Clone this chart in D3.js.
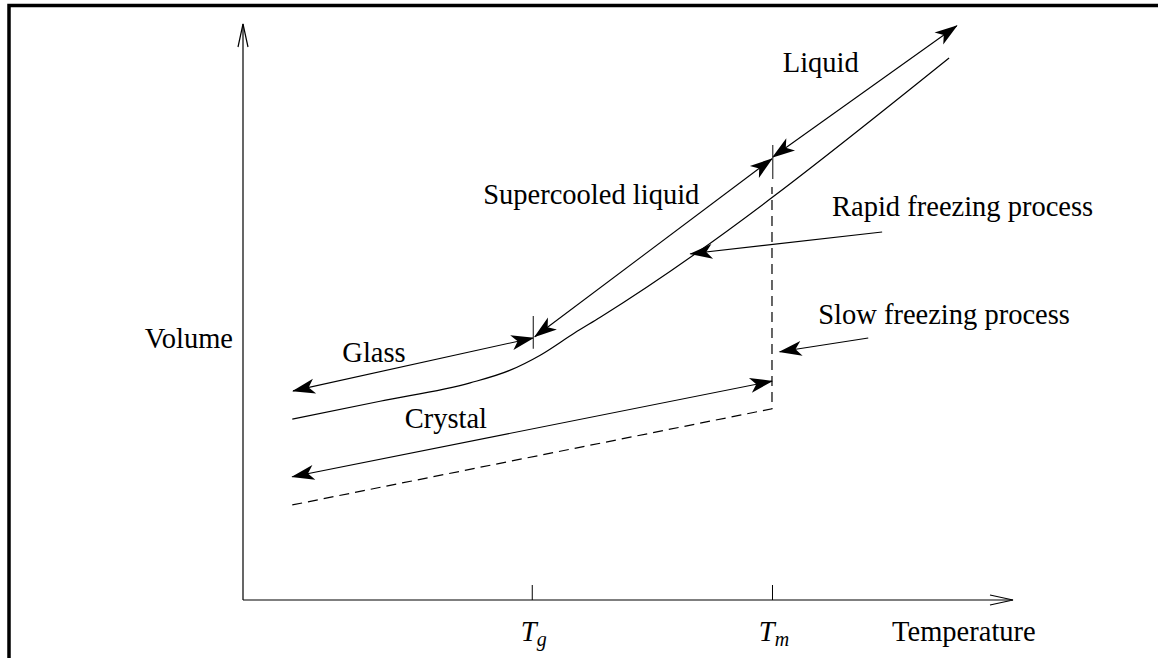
<!DOCTYPE html>
<html>
<head>
<meta charset="utf-8">
<script src="https://cdn.jsdelivr.net/npm/d3@7"></script>
<style>
  body { margin: 0; background: #fff; }
  text { font-family: "Liberation Serif", "Times New Roman", serif; fill: #000; }
</style>
</head>
<body>
<svg id="chart" width="1158" height="658"></svg>
<script>
// schematic units, temperature and volume both run 0..100
const Tg = 37.5, Tm = 68.7;
const tickTemps = [Tg, Tm];
const tickNames = [["T", "g"], ["T", "m"]];

// rapid freezing curve: glass -> bend at Tg -> supercooled / liquid
const rapidT = [6.4, 17.8, 29.5, 34.7, 38.6, 43.1, 46.4, 91.7];
const rapidV = [31.4, 34.5, 37.7, 39.9, 42.5, 46.4, 49.1, 94.1];

// slow freezing: crystal line (dashed) with the jump at Tm
const slowT = [6.4, Tm, Tm];
const slowV = [16.5, 33.2, 71.7];

// double arrows next to the curves: [t1, v1, t2, v2]
const spans = [
  [68.8, 76.9, 92.7, 99.7],  // liquid
  [37.9, 45.7, 68.7, 76.6],  // supercooled liquid
  [37.7, 45.5, 6.5, 36.3],   // glass
  [68.7, 38.0, 6.4, 21.4]    // crystal
];
// little bars where the double arrows meet: [t, vLow, vHigh]
const bars = [
  [68.8, 73.1, 79.0],
  [37.7, 43.6, 49.3]
];
// pointers for the two processes: [tFrom, vFrom, tTo, vTo]
const pointers = [
  [83.0, 63.9, 58.1, 60.1],  // rapid
  [81.2, 45.5, 69.7, 43.1]   // slow
];

const labels = [
  {text: "Liquid", t: 70.1, v: 91.7},
  {text: "Supercooled liquid", t: 31.2, v: 68.75},
  {text: "Rapid freezing process", t: 76.5, v: 66.7},
  {text: "Slow freezing process", t: 74.7, v: 47.9},
  {text: "Glass", t: 12.9, v: 41.3},
  {text: "Crystal", t: 21.0, v: 29.9},
  {text: "Temperature", t: 84.3, v: -7.1}
];

const svg = d3.select("#chart");
const x = d3.scaleLinear([0, 100], [243, 1013]);
const y = d3.scaleLinear([0, 100], [600, 24]);
const fontSize = "28.5px";

// frame (only top and left edges show)
svg.append("path")
  .attr("d", "M9,658 L9,5.5 L1158,5.5")
  .attr("fill", "none").attr("stroke", "#000").attr("stroke-width", 3.5);

const defs = svg.append("defs");
defs.append("marker").attr("id", "head")
  .attr("viewBox", "-25 -9 27 18").attr("refX", 0).attr("refY", 0)
  .attr("markerWidth", 27).attr("markerHeight", 18)
  .attr("markerUnits", "userSpaceOnUse")
  .attr("orient", "auto-start-reverse")
  .append("path").attr("d", "M1,0 L-22,-7.5 L-16,0 L-22,7.5 Z").attr("fill", "#000");
defs.append("marker").attr("id", "open")
  .attr("viewBox", "-25 -7 27 14").attr("refX", 0).attr("refY", 0)
  .attr("markerWidth", 27).attr("markerHeight", 14)
  .attr("markerUnits", "userSpaceOnUse")
  .attr("orient", "auto")
  .append("path").attr("d", "M-23,-5 L0,0 L-23,5")
  .attr("fill", "none").attr("stroke", "#000").attr("stroke-width", 1.2);

// axes
const xAxis = d3.axisBottom(x).tickValues(tickTemps).tickFormat("")
  .tickSizeInner(-15).tickSizeOuter(0);
const gx = svg.append("g").attr("transform", `translate(0,${y(0)})`).call(xAxis);
gx.select(".domain").remove();
gx.selectAll(".tick line").attr("stroke-width", 1);

svg.append("line")
  .attr("x1", x(0)).attr("y1", y(0)).attr("x2", x(100)).attr("y2", y(0))
  .attr("stroke", "#000").attr("stroke-width", 1.2).attr("marker-end", "url(#open)");
svg.append("line")
  .attr("x1", x(0)).attr("y1", y(0)).attr("x2", x(0)).attr("y2", y(100))
  .attr("stroke", "#000").attr("stroke-width", 1.2).attr("marker-end", "url(#open)");

// Tg / Tm labels
tickTemps.forEach((t, i) => {
  const lab = svg.append("text").attr("x", x(t) + 2).attr("y", 641)
    .attr("text-anchor", "middle").style("font-size", fontSize);
  lab.append("tspan").attr("font-style", "italic").text(tickNames[i][0]);
  lab.append("tspan").attr("dy", 5).style("font-size", "20px")
    .attr("font-style", "italic").text(tickNames[i][1]);
});

svg.append("text").attr("x", x(0) - 10).attr("y", y(43.75))
  .attr("text-anchor", "end").style("font-size", fontSize).text("Volume");

// curves
const line = d3.line().x(d => x(d[0])).y(d => y(d[1]));
svg.append("path")
  .attr("d", line.curve(d3.curveMonotoneX)(rapidT.map((t, i) => [t, rapidV[i]])))
  .attr("fill", "none").attr("stroke", "#000").attr("stroke-width", 1.2);
svg.append("path")
  .attr("d", d3.line().x(d => x(d[0])).y(d => y(d[1]))(slowT.map((t, i) => [t, slowV[i]])))
  .attr("fill", "none").attr("stroke", "#000").attr("stroke-width", 1.2)
  .attr("stroke-dasharray", "10,6");

// double arrows
svg.selectAll(".span").data(spans).join("line")
  .attr("x1", d => x(d[0])).attr("y1", d => y(d[1]))
  .attr("x2", d => x(d[2])).attr("y2", d => y(d[3]))
  .attr("stroke", "#000").attr("stroke-width", 1.1)
  .attr("marker-start", "url(#head)").attr("marker-end", "url(#head)");

svg.selectAll(".bar").data(bars).join("line")
  .attr("x1", d => x(d[0])).attr("x2", d => x(d[0]))
  .attr("y1", d => y(d[1])).attr("y2", d => y(d[2]))
  .attr("stroke", "#333").attr("stroke-width", 1.2);

svg.selectAll(".pointer").data(pointers).join("line")
  .attr("x1", d => x(d[0])).attr("y1", d => y(d[1]))
  .attr("x2", d => x(d[2])).attr("y2", d => y(d[3]))
  .attr("stroke", "#000").attr("stroke-width", 1.1)
  .attr("marker-end", "url(#head)");

svg.selectAll(".label").data(labels).join("text")
  .attr("x", d => x(d.t)).attr("y", d => y(d.v))
  .style("font-size", fontSize)
  .text(d => d.text);
</script>
</body>
</html>
